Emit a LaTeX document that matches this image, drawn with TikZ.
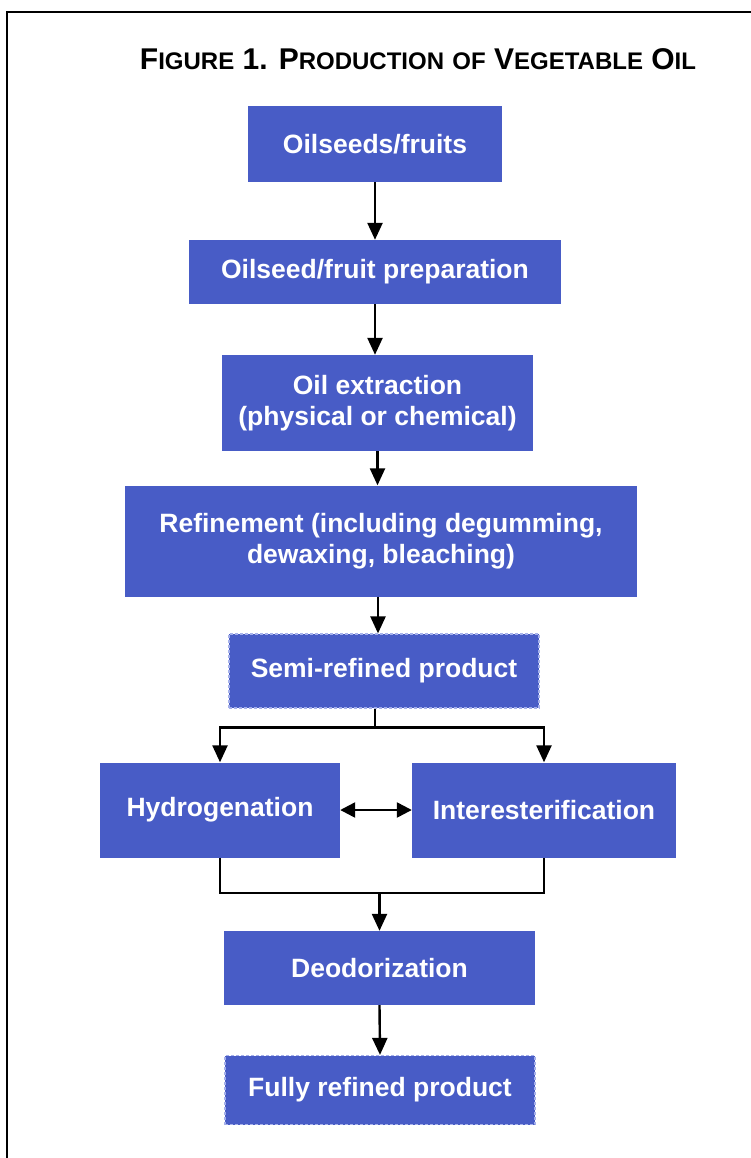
\documentclass[tikz,border=0pt]{standalone}
\usepackage{fontspec}
\setmainfont{Liberation Sans}
\usetikzlibrary{arrows.meta}
\definecolor{stageblue}{RGB}{72,92,198}
\definecolor{dashblue}{RGB}{165,176,234}
\newcommand{\capbig}[1]{{\fontsize{30}{36}\selectfont #1}}
\newcommand{\capsmall}[1]{{\fontsize{24}{29}\selectfont #1}}
\begin{document}
\begin{tikzpicture}[x=1pt,y=-1pt,
  stage/.style={fill=stageblue,text=white,font=\bfseries\fontsize{26.5}{31}\selectfont,align=center,inner sep=0pt},
  semistage/.style={stage,draw=dashblue,densely dashed,line width=1.2pt},
  flow/.style={-{Triangle[length=17pt,width=15pt]},line width=2.4pt}]
\useasboundingbox (0,0) rectangle (751,1158);
\draw[line width=2pt] (7,1160) -- (7,12) -- (753,12);
\node[anchor=base,font=\bfseries\fontsize{30}{36}\selectfont] (title) at (418,70)
  {\capbig{F}\capsmall{IGURE} 1. \capbig{P}\capsmall{RODUCTION} \capsmall{OF} \capbig{V}\capsmall{EGETABLE} \capbig{O}\capsmall{IL}};
\node[stage,minimum width=254pt,minimum height=76pt] (seeds) at (375,144) {Oilseeds/fruits};
\node[stage,minimum width=372pt,minimum height=64pt] (prep) at (375,272) {Oilseed/fruit preparation};
\node[stage,minimum width=311pt,minimum height=96pt] (extract) at (377.5,403) {Oil extraction\\(physical or chemical)};
\node[stage,minimum width=512pt,minimum height=111pt] (refine) at (381,541) {Refinement (including degumming,\\dewaxing, bleaching)};
\node[semistage,minimum width=310pt,minimum height=74pt] (semi) at (384,671) {Semi-refined product};
\node[stage,minimum width=240pt,minimum height=95pt] (hydro) at (220,810) {Hydrogenation};
\node[stage,minimum width=264pt,minimum height=95pt] (inter) at (544,810) {Interesterification};
\node[stage,minimum width=311pt,minimum height=74pt] (deo) at (379.5,968) {Deodorization};
\node[semistage,minimum width=310pt,minimum height=69pt] (full) at (380,1090) {Fully refined product};
% main line
\draw[flow] (seeds.south) -- (prep.north);
\draw[flow] (prep.south) -- (extract.north -| prep.south);
\draw[flow] (extract.south) -- (extract.south |- refine.north);
\draw[flow] ([xshift=-3pt]refine.south) -- ([xshift=-3pt]refine.south |- semi.north);
% split and merge
\draw[line width=2.4pt] ([xshift=-9pt]semi.south) -- ++(0,19) coordinate (split);
\draw[flow] (split) -| (hydro.north);
\draw[flow] (split) -| (inter.north);
\draw[{Triangle[length=15pt,width=15pt]}-{Triangle[length=15pt,width=15pt]},line width=2.4pt] (hydro.east) -- (inter.west);
\draw[line width=2.4pt] (hydro.south) -- ++(0,35) coordinate (mergeL) -| (inter.south);
\coordinate (merge) at (deo.north |- mergeL);
\draw[flow] (merge) -- (deo.north);
\draw[flow] (deo.south) -- (full.north);
\end{tikzpicture}
\end{document}
